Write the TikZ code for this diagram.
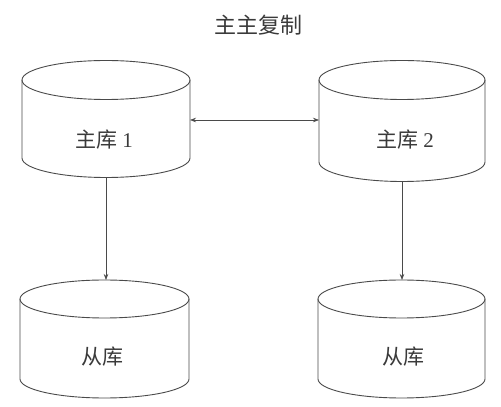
\documentclass[tikz,border=0pt]{standalone}
\usepackage{fontspec}
\setmainfont{Liberation Serif}
\newfontfamily\cjk{Noto Sans CJK SC}
\usetikzlibrary{arrows.meta}
\definecolor{ink}{HTML}{4A4A4A}
\definecolor{txt}{HTML}{3A3A3A}
\tikzset{
  cyl/.style={draw=ink, line width=0.9pt},
  conn/.style={draw=ink, line width=0.7pt, -{Stealth[length=6pt,width=4.5pt]}},
  dconn/.style={draw=ink, line width=0.7pt, {Stealth[length=6pt,width=4.5pt]}-{Stealth[length=6pt,width=4.5pt]}},
  lbl/.style={text=txt, font=\fontsize{21}{21}\selectfont, inner sep=0pt},
  box/.style={inner sep=0pt, minimum width=#1, minimum height=1pt, draw=none},
}
% cylinder: #1 left, #2 right, #3 top-ellipse center y, #4 bottom-arc center y, #5 ry
\newcommand{\mycyl}[5]{%
  \draw[cyl] ({(#1+#2)/2},#3) ellipse [x radius={(#2-#1)/2}, y radius=#5];
  \draw[cyl] (#1,#3) -- (#1,#4) arc[start angle=180, end angle=360, x radius={(#2-#1)/2}, y radius=#5] -- (#2,#3);
}
\begin{document}
\begin{tikzpicture}[x=1pt,y=1pt]
\useasboundingbox (0,0) rectangle (501,407);
% title
\node[lbl, font=\fontsize{22}{22}\selectfont] (title) at (258,382) {\cjk 主主复制};
% cylinders
\mycyl{22}{190}{327}{249}{19.5}
\mycyl{319}{485}{327}{245}{19.5}
\mycyl{20}{189}{108}{28}{19}
\mycyl{318}{485}{108}{28}{19}
% named anchors for the cylinders
\coordinate (m1top) at (106,346.5);
\coordinate (m1bot) at (106,229.5);
\coordinate (m1right) at (190,287);
\coordinate (m2left) at (319,287);
\coordinate (m2bot) at (402,225.5);
\coordinate (s1top) at (106,127);
\coordinate (s2top) at (402,127);
% labels
\node[lbl] (m1) at (104,267) {{\cjk 主库} 1};
\node[lbl] (m2) at (405,267) {{\cjk 主库} 2};
\node[lbl] (s1) at (102,50) {\cjk 从库};
\node[lbl] (s2) at (403,50) {\cjk 从库};
% connectors
\draw[dconn] (m1right) -- (m2left);
\draw[conn] (m1bot) -- (s1top);
\draw[conn] (m2bot) -- (s2top);
\end{tikzpicture}
\end{document}
